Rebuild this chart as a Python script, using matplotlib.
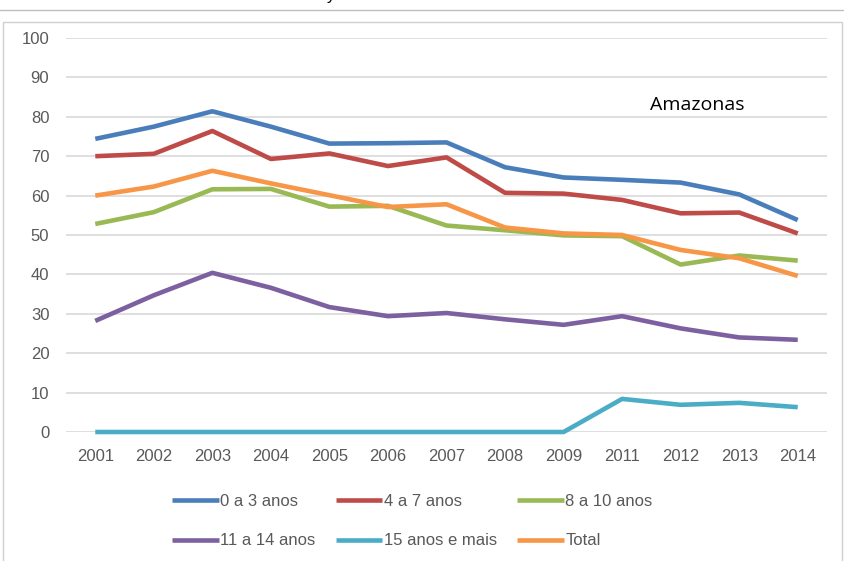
import numpy as np
import matplotlib.pyplot as plt
from matplotlib.lines import Line2D

# dados
anos = ["2001", "2002", "2003", "2004", "2005", "2006", "2007",
        "2008", "2009", "2011", "2012", "2013", "2014"]

a0_3 = [74.4, 77.5, 81.4, 77.5, 73.2, 73.3, 73.5, 67.2, 64.6, 64.0, 63.3, 60.3, 53.8]
a4_7 = [70.0, 70.6, 76.4, 69.3, 70.7, 67.5, 69.7, 60.7, 60.5, 58.9, 55.5, 55.7, 50.4]
a8_10 = [52.8, 55.8, 61.6, 61.7, 57.2, 57.4, 52.4, 51.2, 49.9, 49.7, 42.5, 44.8, 43.5]
a11_14 = [28.2, 34.7, 40.4, 36.6, 31.7, 29.4, 30.2, 28.6, 27.2, 29.4, 26.3, 24.0, 23.4]
a15 = [0, 0, 0, 0, 0, 0, 0, 0, 0, 8.4, 6.9, 7.4, 6.3]
total = [60.0, 62.3, 66.3, 63.1, 60.1, 57.1, 57.8, 51.9, 50.4, 50.0, 46.2, 44.1, 39.6]

series = [
    ("0 a 3 anos", a0_3, "#4A7EBB"),
    ("4 a 7 anos", a4_7, "#BE4B48"),
    ("8 a 10 anos", a8_10, "#98B954"),
    ("11 a 14 anos", a11_14, "#7D60A0"),
    ("15 anos e mais", a15, "#4BACC6"),
    ("Total", total, "#F79646"),
]

plt.rcParams['font.family'] = ['Liberation Sans Narrow', 'Liberation Sans', 'DejaVu Sans']

fig = plt.figure(figsize=(8.45, 5.61), dpi=100)
ax = fig.add_axes([66 / 845, 1 - 432 / 561, 761 / 845, 394 / 561])

x = np.arange(len(anos))
linhas = []
for nome, vals, cor in series:
    l, = ax.plot(x, vals, color=cor, lw=3.3, label=nome, clip_on=False,
                 solid_capstyle='butt', solid_joinstyle='round')
    linhas.append(l)

ax.set_xlim(-0.5, len(anos) - 0.5)
ax.set_ylim(0, 100)
ax.set_yticks(range(0, 101, 10))
ax.set_xticks(x)
ax.set_xticklabels(anos)
ax.yaxis.grid(True, color="#D9D9D9", lw=1.2)
ax.set_axisbelow(True)
for s in ax.spines.values():
    s.set_visible(False)
ax.tick_params(length=0, labelsize=12, colors="#595959")
ax.tick_params(axis='y', pad=12)
ax.tick_params(axis='x', pad=12)

ax.text(0.83, 0.83, "Amazonas", transform=ax.transAxes, ha='center', va='center',
        fontsize=14, family=['Open Sans', 'DejaVu Sans'], color="black")

# legenda em linhas (ordem: linha 1 = 0-3, 4-7, 8-10; linha 2 = 11-14, 15+, Total)
ordem = [0, 3, 1, 4, 2, 5]
ax.legend([linhas[i] for i in ordem], [series[i][0] for i in ordem],
          loc='upper center', bbox_to_anchor=(0.455, -0.12), ncol=3, frameon=False,
          fontsize=12, handlelength=2.8, handletextpad=0.1, columnspacing=1.2,
          labelspacing=1.45, labelcolor="#595959")

# moldura
fig.add_artist(Line2D([0, 1], [1 - 10 / 561, 1 - 10 / 561], color="#BFBFBF", lw=1))
fig.add_artist(Line2D([3 / 845, 3 / 845, 842 / 845, 842 / 845],
                      [0, 1 - 22 / 561, 1 - 22 / 561, 0], color="#D0D0D0", lw=1))
fig.text(331 / 845, 1.0, "y", fontsize=12, va='baseline', ha='center')

fig.savefig("out.png", dpi=100)
